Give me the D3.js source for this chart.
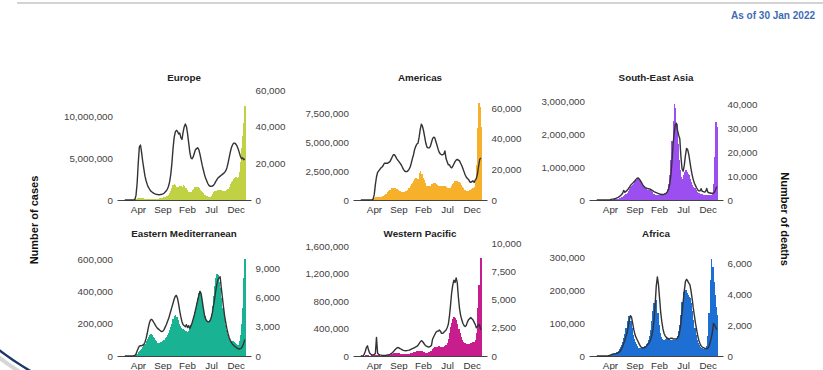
<!DOCTYPE html>
<html><head><meta charset="utf-8">
<script src="https://cdn.jsdelivr.net/npm/d3@7"></script>
<style>
html,body{margin:0;padding:0;background:#fff;}
svg{display:block;font-family:"Liberation Sans",Arial,Helvetica,sans-serif;}
</style></head>
<body><svg id="c" width="823" height="370"></svg>
<script>
// ---------- DATA ----------
const firstWeek = "2020-01-06";   // week start of first bar; 108 weekly values per series
const weekCount = 108;
const xTickDates = ["2020-04-01","2020-09-01","2021-02-01","2021-07-01","2021-12-01"];
const xTickLabels = ["Apr","Sep","Feb","Jul","Dec"];
const asOfText = "As of 30 Jan 2022";
const leftAxisTitle = "Number of cases";
const rightAxisTitle = "Number of deaths";
const regions = ["Europe","Americas","South-East Asia","Eastern Mediterranean","Western Pacific","Africa"];
const regionColors = ["#c0d244","#f6b02a","#9c4ff0","#19b394","#c81d8c","#1e6fd4"];

// weekly cases (thousands)
const europeCases = [0,0,0,0,0,0,0,2,10,45,120,190,230,240,220,210,180,150,140,130,125,125,130,140,140,140,130,130,140,150,160,180,200,230,260,320,380,450,520,650,850,1100,1450,1750,1850,1750,1600,1500,1550,1650,1700,1550,1800,1650,1400,1250,1000,950,950,1000,1200,1300,1500,1600,1600,1500,1400,1250,1100,950,800,650,500,420,380,370,400,500,700,900,1050,1100,1100,1150,1150,1150,1150,1100,1050,1000,1050,1150,1350,1600,1900,2100,2300,2500,2600,2700,2650,2700,3300,4500,6200,7600,9200,11200];
const americasCases = [0,0,0,0,0,0,0,0,1,5,25,80,170,230,230,240,250,260,290,330,380,430,480,550,650,800,900,1000,1050,1050,1000,950,920,850,780,750,720,720,710,720,750,800,900,1050,1250,1400,1500,1600,1800,1900,1850,1800,2300,2500,2200,1900,1700,1500,1250,1200,1200,1200,1250,1350,1400,1450,1450,1350,1300,1250,1250,1250,1200,1150,1250,1200,1150,1050,1000,1000,1050,1200,1350,1500,1600,1650,1650,1550,1450,1300,1150,1000,900,850,800,780,800,850,900,950,1000,1150,1600,3000,6200,8400,8000,6300];
const seAsiaCases = [0,0,0,0,0,0,0,0,0,0.2,0.5,1.5,4,8,12,16,20,28,35,45,55,70,85,100,120,150,180,220,270,330,380,420,460,500,560,620,660,650,600,540,480,420,380,350,320,300,310,290,260,230,190,170,160,160,160,160,150,140,140,150,160,180,230,320,480,750,1200,1800,2400,2900,2800,2300,1700,1200,900,700,650,750,850,900,850,800,750,650,550,450,400,350,300,250,220,200,190,180,170,160,160,150,150,150,150,140,140,180,500,1300,2350,2200];
const eMedCases = [0,0,0,0,0,0,0,1,3,6,10,15,22,30,38,45,55,65,75,90,105,120,130,135,130,120,110,100,90,82,80,82,85,88,92,100,110,120,130,145,160,180,200,230,250,255,240,220,200,185,175,170,165,160,155,150,150,155,170,190,215,240,270,300,330,360,390,400,380,340,290,250,225,210,205,210,225,260,310,370,430,480,505,500,460,420,360,300,240,190,160,135,120,110,100,95,90,85,78,72,68,70,90,130,200,300,480,600];
const wPacCases = [0,0,1,5,20,20,15,5,4,5,8,12,18,20,18,12,8,6,5,5,5,6,7,8,10,13,17,22,30,38,45,48,48,42,38,35,32,30,30,30,30,30,32,35,40,45,50,55,60,65,68,70,75,75,70,62,55,50,48,50,55,60,68,80,95,115,130,135,135,140,140,135,130,125,130,140,155,190,250,330,420,480,540,570,560,520,460,390,330,280,240,210,195,185,180,175,175,180,185,190,200,210,230,330,700,1030,1030,1420];
const africaCases = [0,0,0,0,0,0,0,0,0.1,0.3,1,2,3,4,5,6,8,10,13,16,20,26,33,42,55,68,85,105,120,120,105,85,65,52,42,35,29,25,23,22,23,26,28,30,35,40,48,60,80,105,135,160,180,170,130,95,70,58,52,50,50,52,54,55,52,50,50,48,47,47,48,52,60,75,95,125,165,195,205,200,190,185,180,175,160,135,110,85,65,50,40,32,28,25,23,22,21,22,30,60,130,230,295,270,225,185,150,125];

// weekly deaths
const europeDeaths = [0,0,0,0,0,0,0,0,10,300,2500,9000,20000,29000,30000,26000,21000,17000,13000,10500,8500,7000,6000,5000,4500,4000,3600,3300,3100,3000,2900,2900,3000,3100,3300,3700,4300,5000,6000,7500,10000,14000,20000,28000,34000,37000,38000,37500,36000,36500,34000,33000,37000,40000,41500,40000,36000,31000,26000,23000,22500,23500,25500,27500,28000,28500,27500,25000,22000,19000,16500,14000,12000,10500,9000,8000,7500,7500,7600,8000,8800,10000,11000,12000,12500,13000,13500,14000,14500,15000,16000,17500,20000,23000,26000,28500,30000,31000,31000,30500,29500,28000,26000,24000,22500,23000,22000,22500];
const americasDeaths = [0,0,0,0,0,0,0,0,0,10,100,600,3500,10000,15000,18000,19000,20000,21000,21500,22500,24000,24000,24000,24000,24500,25000,26500,28000,29500,29500,28500,27000,26000,25000,24000,23000,21500,20000,19000,18500,18500,19000,20000,21500,24000,27000,29500,33000,35000,36500,37000,41000,46000,49500,48000,45000,41000,37000,34500,34000,34000,35000,37500,40000,41000,40500,38000,35500,33000,31000,30000,29500,29500,30000,32000,27000,25000,23000,23000,21500,21000,22000,23500,25000,26000,26500,26000,25500,24000,22500,20500,18500,16500,15000,14000,13500,12000,11500,12000,12500,11500,13000,14000,17000,22000,26500,27500];
const seAsiaDeaths = [0,0,0,0,0,0,0,0,0,0,10,30,100,250,350,400,500,700,900,1100,1400,1800,2200,2800,4000,3200,3600,4000,4600,5200,6000,6600,7000,7500,8000,8600,9100,9200,8700,8000,7200,6300,5700,5200,5000,4800,4700,4600,4400,4100,3800,3500,3300,3100,2900,2700,2500,2400,2300,2300,2400,2600,2900,3500,4500,6500,10000,16000,23000,28000,31500,32000,29000,27000,25500,18000,13000,12000,14500,18500,21500,21000,19000,16000,13000,10500,8500,7000,6000,5000,4200,3800,3800,4700,3600,3500,3300,3500,4800,3300,3000,2900,2800,2800,2900,3300,4500,5500];
const eMedDeaths = [0,0,0,0,0,0,0,0,20,60,200,500,800,1000,1050,1050,1100,1200,1400,1800,2300,2900,3400,3700,3750,3600,3400,3200,3000,2850,2750,2650,2550,2500,2550,2700,2950,3200,3500,3800,4200,4600,5000,5400,5800,6100,6200,5900,5300,4600,4000,3500,3200,3100,3000,3200,2900,3100,2800,3100,3400,3800,4200,4700,5200,5700,6200,6600,6400,5700,4900,4200,3800,3600,3500,3500,3600,3900,4400,5100,5800,6600,7300,7800,8000,8100,7000,6000,5000,4100,3400,2800,2300,1900,1600,1400,1200,1100,1000,900,800,750,700,750,800,1000,1300,1700];
const wPacDeaths = [0,0,2,150,400,750,900,500,250,150,100,120,150,200,1650,250,150,100,80,60,50,50,60,80,100,120,150,200,280,380,500,600,700,750,720,650,600,550,500,480,470,480,500,520,550,600,650,700,750,800,850,950,1100,1250,1350,1300,1150,1000,900,850,800,800,850,950,1500,1700,1900,2100,2200,2200,2300,2200,2000,2000,2100,2200,2300,2500,2800,3500,4500,5600,6300,6700,6500,6900,6500,5200,4200,3600,3200,2900,2700,2600,2700,3000,3200,3300,3400,3300,3200,3000,2800,2500,2600,2800,2700,2300];
const africaDeaths = [0,0,0,0,0,0,0,0,0,0,10,30,60,90,110,130,140,150,170,200,250,320,450,600,800,1000,1250,1500,1900,2300,2600,2500,2100,1700,1400,1200,1050,900,750,620,550,520,520,550,620,700,800,900,1050,1300,1700,2300,3300,4500,5100,4600,3700,2800,2200,1750,1450,1300,1200,1150,1100,1100,1150,1150,1100,1100,1100,1100,1150,1300,1600,2100,2800,3500,4200,4800,4950,4850,4700,4600,4200,3700,3100,2600,2100,1700,1300,1000,800,650,580,540,500,480,480,500,620,850,1150,1500,2100,2000,1850,1700];

// axis tick values
const europeCaseTicks = [0,5000000,10000000],  europeDeathTicks = [0,20000,40000,60000];
const americasCaseTicks = [0,2500000,5000000,7500000], americasDeathTicks = [0,20000,40000,60000];
const seAsiaCaseTicks = [0,1000000,2000000,3000000], seAsiaDeathTicks = [0,10000,20000,30000,40000];
const eMedCaseTicks = [0,200000,400000,600000], eMedDeathTicks = [0,3000,6000,9000];
const wPacCaseTicks = [0,400000,800000,1200000,1600000], wPacDeathTicks = [0,2500,5000,7500,10000];
const africaCaseTicks = [0,100000,200000,300000], africaDeathTicks = [0,2000,4000,6000];

// ---------- LAYOUT ----------
const colX = [117, 353, 589];
const rowBase = [200, 356];
const plotW = 134;
const xDomain = [new Date(2019,10,22), new Date(2022,2,7)];

const panels = [
  {name:regions[0], color:regionColors[0], cases:europeCases,   deaths:europeDeaths,   cT:europeCaseTicks,   dT:europeDeathTicks,   col:0,row:0, cTopY:116, dTopY:90},
  {name:regions[1], color:regionColors[1], cases:americasCases, deaths:americasDeaths, cT:americasCaseTicks, dT:americasDeathTicks, col:1,row:0, cTopY:113, dTopY:108},
  {name:regions[2], color:regionColors[2], cases:seAsiaCases,   deaths:seAsiaDeaths,   cT:seAsiaCaseTicks,   dT:seAsiaDeathTicks,   col:2,row:0, cTopY:101, dTopY:104},
  {name:regions[3], color:regionColors[3], cases:eMedCases,     deaths:eMedDeaths,     cT:eMedCaseTicks,     dT:eMedDeathTicks,     col:0,row:1, cTopY:259, dTopY:268},
  {name:regions[4], color:regionColors[4], cases:wPacCases,     deaths:wPacDeaths,     cT:wPacCaseTicks,     dT:wPacDeathTicks,     col:1,row:1, cTopY:246, dTopY:243},
  {name:regions[5], color:regionColors[5], cases:africaCases,   deaths:africaDeaths,   cT:africaCaseTicks,   dT:africaDeathTicks,   col:2,row:1, cTopY:257, dTopY:263}
];

const svg = d3.select("#c");
const start = new Date(firstWeek + "T00:00:00");
const weeks = d3.range(weekCount).map(i => d3.timeDay.offset(start, 7*i));
const fmt = d3.format(",");

// decorations
svg.append("line").attr("x1",17).attr("x2",823).attr("y1",3).attr("y2",3)
   .attr("stroke","#c4c4c4").attr("stroke-width",1.6);
svg.append("text").attr("x",815).attr("y",19).attr("text-anchor","end")
   .attr("font-size",10).attr("font-weight","bold").attr("fill","#3d6cb3").text(asOfText);
svg.append("path").attr("d","M -6,349 Q 10,362 30,374").attr("fill","none")
   .attr("stroke","#d6d6d6").attr("stroke-width",4).attr("transform","translate(-2,3)");
svg.append("path").attr("d","M -6,346 Q 10,359 32,372").attr("fill","none")
   .attr("stroke","#1d3768").attr("stroke-width",2.4);

svg.append("text").attr("transform","translate(38,220) rotate(-90)").attr("text-anchor","middle")
   .attr("font-size",11).attr("font-weight","bold").attr("fill","#111").text(leftAxisTitle);
svg.append("text").attr("transform","translate(781,219) rotate(90)").attr("text-anchor","middle")
   .attr("font-size",11).attr("font-weight","bold").attr("fill","#111").text(rightAxisTitle);

panels.forEach(p => {
  const x0 = colX[p.col], base = rowBase[p.row];
  const x = d3.scaleTime().domain(xDomain).range([x0, x0 + plotW]);
  const yC = d3.scaleLinear().domain([0, d3.max(p.cT)]).range([base, p.cTopY]);
  const yD = d3.scaleLinear().domain([0, d3.max(p.dT)]).range([base, p.dTopY]);
  const g = svg.append("g");

  // title
  g.append("text").attr("x", x0 + plotW/2).attr("y", p.row === 0 ? 80.5 : 236.5)
    .attr("text-anchor","middle").attr("font-size",9.8).attr("font-weight","bold")
    .attr("fill","#222").text(p.name);

  // bars (cases)
  g.append("g").attr("shape-rendering","crispEdges")
    .selectAll("rect").data(p.cases).join("rect")
    .attr("x", (d,i) => x(weeks[i]))
    .attr("width", (d,i) => x(d3.timeDay.offset(weeks[i],7)) - x(weeks[i]) + 0.6)
    .attr("y", d => yC(d*1000))
    .attr("height", d => base - yC(d*1000))
    .attr("fill", p.color);

  // x axis (baseline + month labels)
  const xa = g.append("g").attr("transform",`translate(0,${base})`)
    .call(d3.axisBottom(x).tickValues(xTickDates.map(s => new Date(s+"T00:00:00")))
      .tickFormat((d,i) => xTickLabels[i]).tickSize(0).tickSizeOuter(0).tickPadding(6.5));
  xa.select(".domain").attr("stroke","#444").attr("stroke-width",1);
  xa.selectAll("text").attr("font-size",9.8).attr("fill","#333").attr("font-family",null);

  // deaths line
  const line = d3.line()
    .x((d,i) => x(d3.timeHour.offset(weeks[i],84)))
    .y(d => yD(d));
  g.append("path").datum(p.deaths).attr("d", line)
    .attr("fill","none").attr("stroke","#333").attr("stroke-width",1.4)
    .attr("stroke-linejoin","round");

  // left axis (cases)
  const la = g.append("g").attr("transform",`translate(${x0},0)`)
    .call(d3.axisLeft(yC).tickValues(p.cT).tickFormat(fmt).tickSize(0).tickPadding(4));
  la.select(".domain").remove();
  la.selectAll("text").attr("font-size",9.8).attr("fill","#444").attr("font-family",null);

  // right axis (deaths)
  const ra = g.append("g").attr("transform",`translate(${x0+plotW},0)`)
    .call(d3.axisRight(yD).tickValues(p.dT).tickFormat(fmt).tickSize(0).tickPadding(4.5));
  ra.select(".domain").remove();
  ra.selectAll("text").attr("font-size",9.8).attr("fill","#444").attr("font-family",null);
});
</script></body></html>
